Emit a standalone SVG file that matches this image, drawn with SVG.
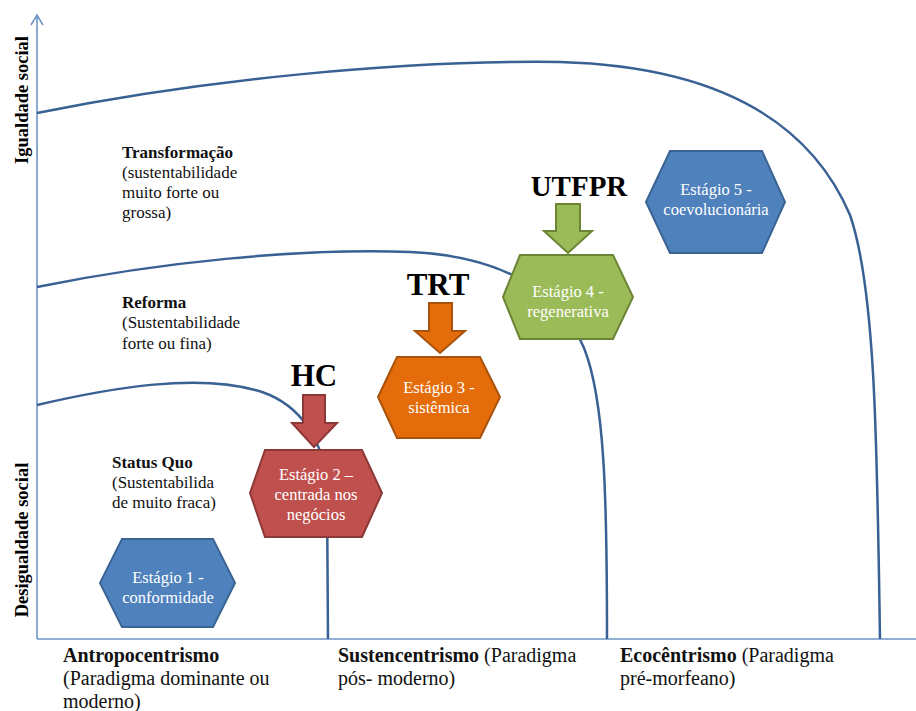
<svg xmlns="http://www.w3.org/2000/svg" width="916" height="711" viewBox="0 0 916 711">
<style>
.axis{fill:none;stroke:#6F95C8;stroke-width:1.6}
.curve{fill:none;stroke:#3A6194;stroke-width:2.5}
.hex{stroke-width:2}
.blue{fill:#4F81BD;stroke:#3A6494}
.red{fill:#C0504D;stroke:#8C3836}
.orange{fill:#E46C0A;stroke:#A9520B}
.green{fill:#9BBB59;stroke:#6B8535}
.ht{font-family:"Liberation Serif","Times New Roman",serif;font-size:16.5px;fill:#FFFFFF;text-anchor:middle}
.lbl{font-family:"Liberation Serif","Times New Roman",serif;font-size:17px;fill:#111111}
.blab{font-family:"Liberation Serif","Times New Roman",serif;font-size:20px;fill:#111111}
.b{font-weight:bold}
.big{font-family:"Liberation Serif","Times New Roman",serif;font-weight:bold;fill:#000000;text-anchor:middle}
</style>
<rect width="916" height="711" fill="#FFFFFF"/>
<g id="axes">
<path class="axis" d="M37,639 V15 M31,25 L37,15 L43,25 M37,639 H916"/>
<text class="big" font-size="18.5" transform="translate(28,100) rotate(-90)">Igualdade social</text>
<text class="big" font-size="18.5" transform="translate(28,540) rotate(-90)">Desigualdade social</text>
</g>
<g id="connectors">
<path class="curve" d="M37,113 C200,80 400,60 560,62 C700,66 805,110 850,215 C876,290 877,450 880,639"/>
<path class="curve" d="M37,287 C160,262 300,248 410,252 C500,256 560,290 584,348 C605,400 607,500 607,639"/>
<path class="curve" d="M37,405 C110,388 200,372 262,392 C300,405 325,440 327,490 L328,639"/>
</g>
<g id="label-transformacao">
<text class="lbl b" x="122" y="158">Transformação</text>
<text class="lbl" x="122" y="178">(sustentabilidade</text>
<text class="lbl" x="122" y="198">muito forte ou</text>
<text class="lbl" x="122" y="218">grossa)</text>
</g>
<g id="label-reforma">
<text class="lbl b" x="122" y="308">Reforma</text>
<text class="lbl" x="122" y="328">(Sustentabilidade</text>
<text class="lbl" x="122" y="349">forte ou fina)</text>
</g>
<g id="label-statusquo">
<text class="lbl b" x="112" y="468">Status Quo</text>
<text class="lbl" x="112" y="488">(Sustentabilida</text>
<text class="lbl" x="112" y="508">de muito fraca)</text>
</g>
<g id="stage1" font-family="Liberation Serif, serif">
<polygon class="hex blue" points="100,583 122,539 213,539 235,583 213,627 122,627"/>
<text class="ht" x="168" y="583">Estágio 1 -</text>
<text class="ht" x="168" y="603">conformidade</text>
</g>
<g id="arrow-hc">
<text class="big" font-size="31" x="314" y="386">HC</text>
<path class="red" stroke-width="2" d="M303,395 H325 V423 H337 L314,447 L292,423 H303 Z"/>
</g>
<g id="stage2" font-family="Liberation Serif, serif">
<polygon class="hex red" points="250,493 265,450 362,450 382,493 362,537 265,537"/>
<text class="ht" x="316" y="480">Estágio 2 –</text>
<text class="ht" x="316" y="500">centrada nos</text>
<text class="ht" x="316" y="520">negócios</text>
</g>
<g id="arrow-trt">
<text class="big" font-size="31" x="438" y="295">TRT</text>
<path class="orange" stroke-width="2" d="M429,303 H452 V331 H465 L440,353 L415,331 H429 Z"/>
</g>
<g id="stage3" font-family="Liberation Serif, serif">
<polygon class="hex orange" points="378,397 397,357 480,357 500,397 480,438 397,438"/>
<text class="ht" x="439" y="393">Estágio 3 -</text>
<text class="ht" x="439" y="413">sistêmica</text>
</g>
<g id="arrow-utfpr">
<text class="big" font-size="29" x="579" y="196">UTFPR</text>
<path class="green" stroke-width="2" d="M556,204 H580 V231 H592 L568,253 L544,231 H556 Z"/>
</g>
<g id="stage4" font-family="Liberation Serif, serif">
<polygon class="hex green" points="503,297 520,255 613,255 633,297 613,339 520,339"/>
<text class="ht" x="568" y="297">Estágio 4 -</text>
<text class="ht" x="568" y="317">regenerativa</text>
</g>
<g id="stage5" font-family="Liberation Serif, serif">
<polygon class="hex blue" points="646,202 670,151 762,151 785,202 762,253 670,253"/>
<text class="ht" x="716" y="195">Estágio 5 -</text>
<text class="ht" x="716" y="215">coevolucionária</text>
</g>
<g id="label-antropocentrismo">
<text class="blab b" x="63" y="662">Antropocentrismo</text>
<text class="blab" x="63" y="685">(Paradigma dominante ou</text>
<text class="blab" x="63" y="708">moderno)</text>
</g>
<g id="label-sustencentrismo">
<text class="blab" x="338" y="662"><tspan class="b">Sustencentrismo</tspan> (Paradigma</text>
<text class="blab" x="338" y="685">pós- moderno)</text>
</g>
<g id="label-ecocentrismo">
<text class="blab" x="620" y="662"><tspan class="b">Ecocêntrismo</tspan> (Paradigma</text>
<text class="blab" x="620" y="685">pré-morfeano)</text>
</g>
</svg>
